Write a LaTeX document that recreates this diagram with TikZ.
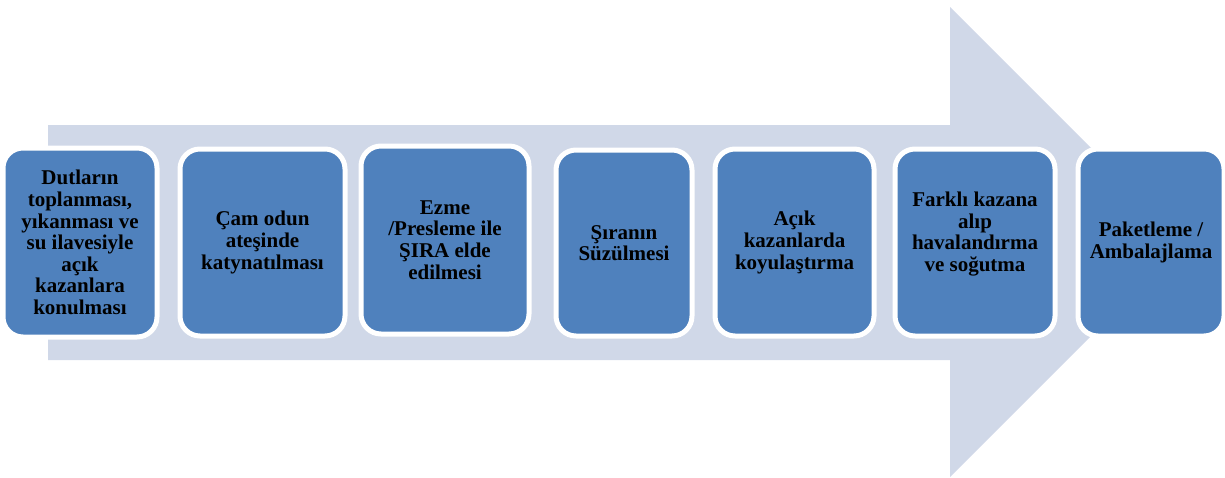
\documentclass[tikz,border=0pt]{standalone}
\usepackage{fontspec}
\setmainfont{Liberation Serif}
\usepackage{tikz}
\usetikzlibrary{positioning}
\definecolor{flowclr}{RGB}{208,216,232}
\definecolor{stepclr}{RGB}{79,129,189}
\tikzset{
    stage/.style={rectangle,rounded corners=20pt,draw=white,line width=5pt,fill=stepclr,
        align=center,inner sep=2pt,font=\fontsize{21}{21.6}\selectfont\bfseries},
}

\begin{document}
\begin{tikzpicture}[x=1pt,y=-1pt]
\useasboundingbox (0,0) rectangle (1225,477);
% background arrow
\fill[flowclr] (48,125) -- (950,125) -- (950,7) -- (1185,242) -- (950,477) -- (950,360) -- (48,360) -- cycle;

\node[stage,minimum width=154pt,minimum height=189pt] (s1) at (80,242.5)  {Dutların\\toplanması,\\yıkanması ve\\su ilavesiyle\\açık\\kazanlara\\konulması};
\node[stage,minimum width=165pt,minimum height=187pt] (s2) at (262.5,242.5) {Çam odun\\ateşinde\\katynatılması};
\node[stage,minimum width=168pt,minimum height=188pt] (s3) at (445,240)   {Ezme\\/Presleme ile\\ŞIRA elde\\edilmesi};
\node[stage,minimum width=136pt,minimum height=186pt] (s4) at (624,243)   {Şıranın\\Süzülmesi};
\node[stage,minimum width=159pt,minimum height=187pt] (s5) at (794.5,242.5) {Açık\\kazanlarda\\koyulaştırma};
\node[stage,minimum width=160pt,minimum height=187pt] (s6) at (975,242.5)  {Farklı kazana\\alıp\\havalandırma\\ve soğutma\\\mbox{}};
\node[stage,minimum width=146pt,minimum height=187pt] (s7) at (1151,242.5) {Paketleme /\\Ambalajlama};
\end{tikzpicture}
\end{document}
